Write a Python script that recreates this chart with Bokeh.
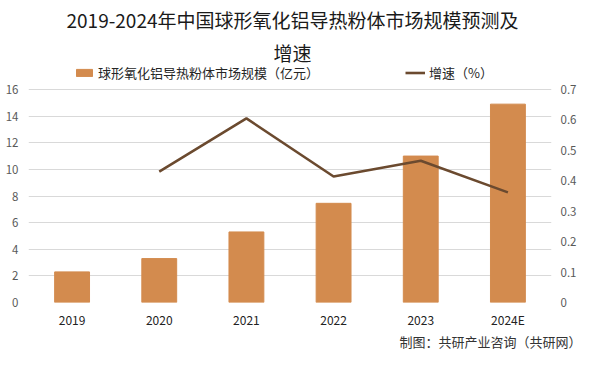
from bokeh.plotting import figure
from bokeh.models import (Range1d, LinearAxis, FixedTicker, Legend, LegendItem,
                          FactorRange, Title, Label)
from bokeh.embed import file_html
from bokeh.resources import INLINE

years = ["2019", "2020", "2021", "2022", "2023", "2024E"]
market_size = [2.3, 3.3, 5.3, 7.45, 11.0, 14.9]
growth_years = ["2020", "2021", "2022", "2023", "2024E"]
growth_rate = [0.43, 0.605, 0.414, 0.466, 0.362]
left_ticks = [0, 2, 4, 6, 8, 10, 12, 14, 16]
right_ticks = [0, 0.1, 0.2, 0.3, 0.4, 0.5, 0.6, 0.7]
right_labels = ["0", "0.1", "0.2", "0.3", "0.4", "0.5", "0.6", "0.7"]
left_max, right_max = 16, 0.7

title_1 = "2019-2024年中国球形氧化铝导热粉体市场规模预测及"
title_2 = "增速"
bar_name = "球形氧化铝导热粉体市场规模（亿元）"
line_name = "增速（%）"
source_note = "制图：共研产业咨询（共研网）"

BAR = "#D38B4E"
LINE = "#6B4A2F"
CJK = "Noto Sans CJK SC"
W, H = 584, 359
FL, FR = 28, 551
FT, FB = 0, 302           # frame spans from the top of the canvas (hosts title + legend)
GRID_TOP = 89             # pixel row where the top tick (16 / 0.7) sits
stretch = (FB - FT) / (FB - GRID_TOP)

p = figure(width=W, height=H, output_backend="svg", toolbar_location=None,
           x_range=FactorRange(factors=years), y_range=Range1d(0, left_max * stretch),
           min_border_left=FL, min_border_right=W - FR,
           min_border_top=FT, min_border_bottom=H - FB)
p.outline_line_color = None
p.background_fill_color = "white"
p.border_fill_color = "white"
p.extra_y_ranges = {"r": Range1d(0, right_max * stretch)}

bars = p.vbar(x=years, top=market_size, width=0.4, color=BAR)
line = p.line(x=growth_years, y=growth_rate, y_range_name="r", line_color=LINE, line_width=2.6)

# ---- axes
p.xaxis.axis_line_color = None
p.xaxis.major_tick_line_color = None
p.xaxis.minor_tick_line_color = None
p.xaxis.major_tick_out = 0
p.xaxis.major_label_text_font = CJK
p.xaxis.major_label_text_font_size = "12px"
p.xaxis.major_label_text_color = "#222222"
p.xaxis.major_label_standoff = 8

p.yaxis.ticker = FixedTicker(ticks=left_ticks)
p.yaxis.axis_line_color = None
p.yaxis.major_tick_line_color = None
p.yaxis.minor_tick_line_color = None
p.yaxis.major_tick_out = 0
p.yaxis.major_label_text_font = CJK
p.yaxis.major_label_text_font_size = "11.5px"
p.yaxis.major_label_text_color = "#595959"
p.yaxis.major_label_standoff = 10

ra = LinearAxis(y_range_name="r", ticker=FixedTicker(ticks=right_ticks),
                major_label_overrides={t: s for t, s in zip(right_ticks, right_labels)})
ra.axis_line_color = None
ra.major_tick_line_color = None
ra.minor_tick_line_color = None
ra.major_tick_out = 0
ra.major_label_text_font = CJK
ra.major_label_text_font_size = "11.5px"
ra.major_label_text_color = "#595959"
ra.major_label_standoff = 9
p.add_layout(ra, "right")

p.xgrid.grid_line_color = None
p.ygrid.ticker = FixedTicker(ticks=left_ticks)
p.ygrid.grid_line_color = "#D9D9D9"
p.ygrid.grid_line_width = 1

# ---- titles (inside the top strip of the frame)
for txt, yy in [(title_1, 19), (title_2, 52)]:
    p.add_layout(Label(x=292 - FL, y=FB - yy, x_units="screen", y_units="screen",
                       text=txt, text_align="center", text_baseline="middle",
                       text_font=CJK, text_font_size="19px", text_color="#1a1a1a"))

# ---- legend
legend = Legend(items=[LegendItem(label=bar_name, renderers=[bars]),
                       LegendItem(label=line_name, renderers=[line])],
                orientation="horizontal", location=(74 - FL, FB - 74 - 8), spacing=86,
                glyph_height=9, label_height=16, label_standoff=4,
                padding=0, margin=0, border_line_color=None, background_fill_alpha=0,
                label_text_font=CJK, label_text_font_size="13px",
                label_text_color="#262626")
p.add_layout(legend)

# ---- source note
note = Title(text=source_note, align="right", vertical_align="middle", offset=-30,
             text_font=CJK, text_font_size="13px", text_font_style="normal",
             text_color="#333333", standoff=0)
p.add_layout(note, "below")

open("out.html", "w").write(file_html(p, INLINE))
